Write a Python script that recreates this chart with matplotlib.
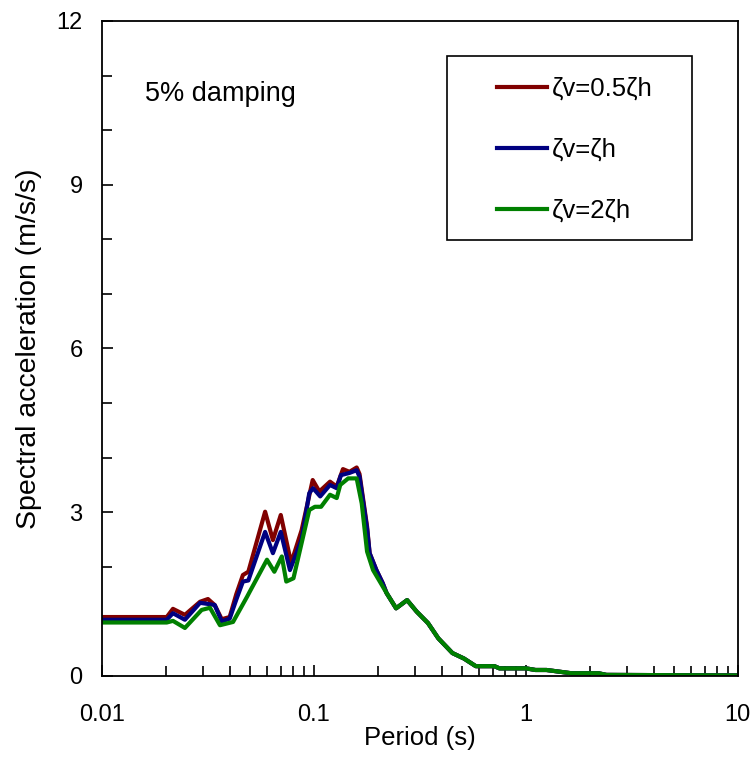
import numpy as np
import matplotlib
matplotlib.use("Agg")
import matplotlib.pyplot as plt
from matplotlib.patches import Rectangle
from matplotlib.ticker import FixedLocator, MultipleLocator, NullFormatter, LogLocator

plt.rcParams['font.family'] = ['Liberation Sans', 'DejaVu Sans']

# ---- data ----
tail_T = [0.22, 0.244, 0.275, 0.305, 0.345, 0.386, 0.45, 0.51, 0.58, 0.71, 0.75,
          1.0, 1.11, 1.25, 1.64, 2.2, 2.4, 10.0]
tail_S = [1.52, 1.24, 1.39, 1.18, 0.97, 0.69, 0.42, 0.32, 0.18, 0.18, 0.14,
          0.14, 0.11, 0.11, 0.05, 0.05, 0.02, 0.01]

red_T = [0.01, 0.0202, 0.0216, 0.0246, 0.029, 0.0316, 0.034, 0.0367, 0.040, 0.043,
         0.0462, 0.049, 0.0588, 0.064, 0.0697, 0.078, 0.0874, 0.0986, 0.106, 0.119,
         0.128, 0.137, 0.147, 0.159, 0.164, 0.178, 0.183, 0.197, 0.211]
red_S = [1.08, 1.08, 1.23, 1.12, 1.36, 1.41, 1.30, 1.04, 1.08, 1.50,
         1.85, 1.91, 3.01, 2.49, 2.95, 2.07, 2.67, 3.59, 3.38, 3.56,
         3.47, 3.79, 3.74, 3.82, 3.70, 2.74, 2.25, 1.94, 1.70]

blue_T = [0.01, 0.0202, 0.0216, 0.0246, 0.029, 0.0316, 0.034, 0.0367, 0.040, 0.043,
          0.0462, 0.049, 0.0588, 0.064, 0.0697, 0.077, 0.0874, 0.095, 0.099, 0.107,
          0.119, 0.128, 0.134, 0.147, 0.159, 0.164, 0.178, 0.183, 0.197, 0.211]
blue_S = [1.03, 1.03, 1.15, 1.03, 1.34, 1.32, 1.30, 1.00, 1.05, 1.40,
          1.73, 1.75, 2.64, 2.25, 2.64, 1.94, 2.50, 3.35, 3.44, 3.29,
          3.50, 3.44, 3.68, 3.72, 3.77, 3.65, 2.70, 2.25, 1.94, 1.70]

green_T = [0.01, 0.0202, 0.0216, 0.0246, 0.0295, 0.0323, 0.036, 0.0415, 0.0483, 0.05,
           0.060, 0.065, 0.0705, 0.074, 0.080, 0.095, 0.101, 0.108, 0.119, 0.128,
           0.133, 0.145, 0.159, 0.168, 0.178, 0.19, 0.211]
green_S = [0.98, 0.98, 1.01, 0.88, 1.21, 1.25, 0.93, 0.99, 1.45, 1.56,
           2.13, 1.91, 2.19, 1.73, 1.79, 3.04, 3.10, 3.10, 3.32, 3.26,
           3.50, 3.62, 3.62, 3.16, 2.28, 1.94, 1.64]

labels = ['ζv=0.5ζh', 'ζv=ζh', 'ζv=2ζh']
colors = ['#800000', '#000080', '#008000']

series = [(red_T + tail_T, red_S + tail_S),
          (blue_T + tail_T, blue_S + tail_S),
          (green_T + tail_T, green_S + tail_S)]

fig = plt.figure(figsize=(7.56, 7.77), dpi=100)
ax = fig.add_axes([0.135, 0.13, 0.841, 0.843])

for (T, S), c, lab in zip(series, colors, labels):
    ax.plot(T, S, color=c, lw=3.0, label=lab, solid_joinstyle='round')

ax.set_xscale('log')
ax.set_xlim(0.01, 10)
ax.set_ylim(0, 12)
ax.yaxis.set_major_locator(MultipleLocator(3))
ax.yaxis.set_minor_locator(MultipleLocator(1))
ax.xaxis.set_major_locator(FixedLocator([0.01, 0.1, 1, 10]))
ax.set_xticklabels(['0.01', '0.1', '1', '10'])
ax.xaxis.set_minor_locator(LogLocator(base=10, subs=np.arange(2, 10)))
ax.xaxis.set_minor_formatter(NullFormatter())

ax.tick_params(which='both', direction='in', labelsize=17, width=1.2, color='black')
ax.tick_params(which='major', length=8)
ax.tick_params(which='minor', length=7)
ax.tick_params(axis='x', which='major', pad=20)
ax.tick_params(axis='y', which='major', pad=14)
for sp in ax.spines.values():
    sp.set_linewidth(1.3)

ax.set_xlabel('Period (s)', fontsize=18.5, labelpad=0)
ax.set_ylabel('Spectral acceleration (m/s/s)', fontsize=20.5, labelpad=10)

ax.text(0.068, 0.888, '5% damping', transform=ax.transAxes, fontsize=19.5,
        ha='left', va='center')

# legend box
ax.add_patch(Rectangle((0.5425, 0.6656), 0.3852, 0.281, transform=ax.transAxes,
                       fill=False, edgecolor='black', lw=1.2, zorder=5))
leg = ax.legend(loc='upper left', bbox_to_anchor=(0.621, 0.915), fontsize=18.5,
                frameon=False, handlelength=1.95, handletextpad=0.2,
                labelspacing=1.44, borderpad=0, borderaxespad=0)

fig.savefig('out.png', dpi=100)
